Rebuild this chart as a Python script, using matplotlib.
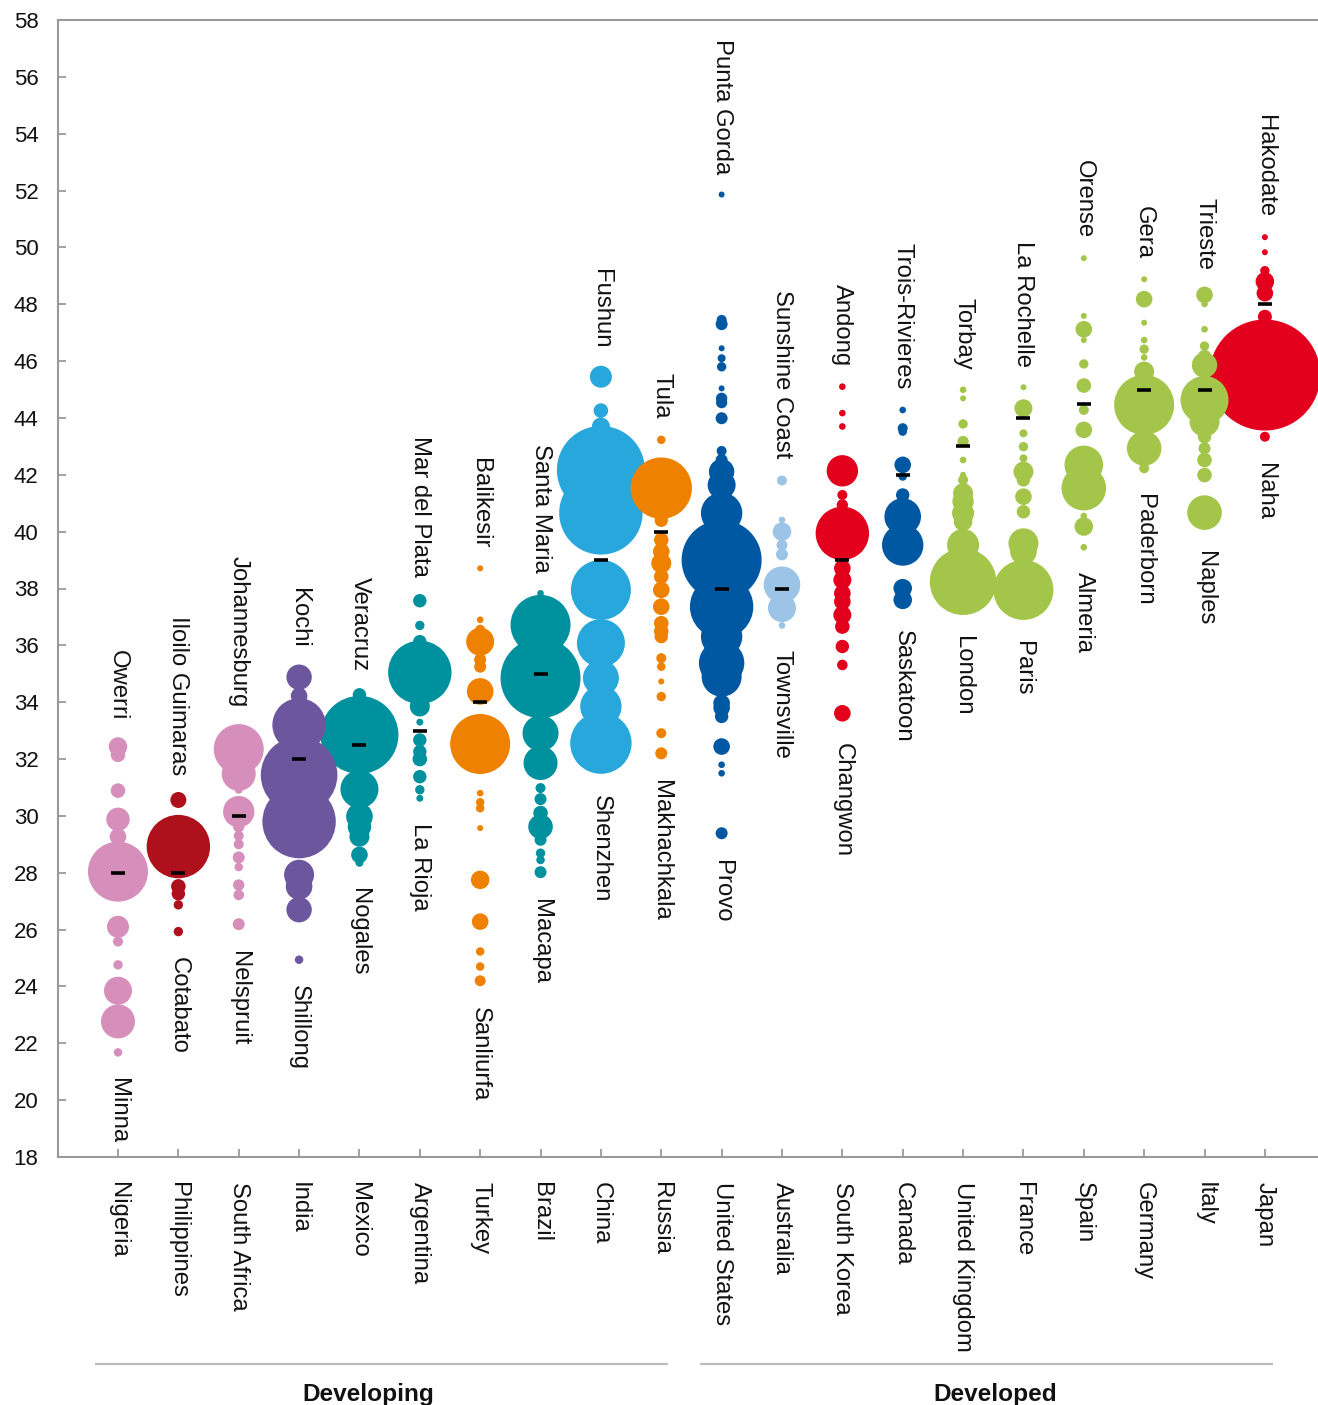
import matplotlib
matplotlib.use("Agg")
import matplotlib.pyplot as plt
import matplotlib.transforms as mtransforms
import numpy as np

plt.rcParams['font.family'] = ['Liberation Sans', 'DejaVu Sans']

countries = ["Nigeria", "Philippines", "South Africa", "India", "Mexico", "Argentina",
             "Turkey", "Brazil", "China", "Russia", "United States", "Australia",
             "South Korea", "Canada", "United Kingdom", "France", "Spain", "Germany",
             "Italy", "Japan"]
top_city = ["Owerri", "Iloilo Guimaras", "Johannesburg", "Kochi", "Veracruz", "Mar del Plata",
            "Balikesir", "Santa Maria", "Fushun", "Tula", "Punta Gorda", "Sunshine Coast",
            "Andong", "Trois-Rivieres", "Torbay", "La Rochelle", "Orense", "Gera",
            "Trieste", "Hakodate"]
bottom_city = ["Minna", "Cotabato", "Nelspruit", "Shillong", "Nogales", "La Rioja",
               "Sanliurfa", "Macapa", "Shenzhen", "Makhachkala", "Provo", "Townsville",
               "Changwon", "Saskatoon", "London", "Paris", "Almeria", "Paderborn",
               "Naples", "Naha"]
medians = [28, 28, 30, 32, 32.5, 33, 34, 35, 39, 40, 38, 38, 39, 42, 43, 44, 44.5, 45, 45, 48]
groups = ["Developing", "Developed"]
country_colors = ["#D58FBA", "#AF111C", "#D58FBA", "#6C579F", "#00919E", "#00919E",
                  "#EE8200", "#00919E", "#28A7DC", "#EE8200", "#0058A2", "#9CC4E6",
                  "#E2001C", "#0058A2", "#A3C64A", "#A3C64A", "#A3C64A", "#A3C64A",
                  "#A3C64A", "#E2001C"]

# city values (y) and relative population (bubble area)
nigeria_vals = [32.44, 32.15, 30.89, 29.88, 29.27, 28.04, 26.1, 25.58, 24.76, 23.85, 22.77, 21.68]
nigeria_pops = [86, 53, 53, 137, 69, 900, 121, 25, 22, 196, 289, 18]
philippines_vals = [30.56, 28.92, 27.52, 27.26, 26.87, 25.93]
philippines_pops = [64, 1005, 53, 45, 22, 22]
south_africa_vals = [32.35, 31.48, 30.92, 30.15, 29.62, 29.3, 29.0, 28.54, 28.2, 27.57, 27.22, 26.19]
south_africa_pops = [625, 289, 16, 246, 32, 25, 25, 36, 18, 32, 28, 36]
india_vals = [34.88, 34.22, 33.2, 31.44, 29.8, 27.93, 27.52, 26.7, 24.94]
india_pops = [161, 69, 713, 1467, 1347, 225, 177, 161, 18]
mexico_vals = [34.26, 32.85, 30.94, 29.98, 29.62, 29.27, 28.63, 28.35]
mexico_pops = [45, 1521, 361, 177, 137, 100, 69, 16]
argentina_vals = [37.57, 36.7, 36.13, 35.05, 33.85, 33.3, 32.67, 32.26, 32.0, 31.38, 30.92, 30.62]
argentina_pops = [45, 22, 45, 1005, 100, 12, 45, 45, 53, 45, 22, 12]
turkey_vals = [38.71, 36.9, 36.55, 36.13, 35.5, 35.25, 34.38, 32.53, 30.8, 30.48, 30.27,
               29.57, 27.75, 26.28, 25.23, 24.7, 24.2]
turkey_pops = [9, 11, 25, 196, 36, 36, 177, 900, 11, 18, 18, 9, 86, 69, 18, 18, 30]
brazil_vals = [37.83, 36.72, 34.85, 32.91, 31.86, 30.98, 30.59, 30.1, 29.62, 29.16, 28.69, 28.45, 28.02]
brazil_pops = [11, 900, 1600, 324, 289, 25, 36, 53, 151, 36, 22, 18, 36]
china_vals = [45.45, 44.26, 43.7, 42.17, 40.66, 37.95, 36.08, 34.85, 33.85, 32.56]
china_pops = [121, 53, 81, 1936, 1739, 900, 576, 324, 428, 942]
russia_vals = [43.23, 41.53, 41.0, 40.4, 39.71, 39.3, 38.89, 38.42, 37.95, 37.36, 36.78,
               36.5, 36.31, 35.55, 35.25, 34.73, 34.2, 32.91, 32.2]
russia_pops = [18, 942, 49, 45, 53, 69, 100, 53, 69, 69, 53, 53, 45, 25, 18, 9, 22, 25, 36]
us_vals = [51.86, 47.45, 47.3, 46.45, 46.1, 45.8, 45.04, 44.69, 44.54, 43.99, 42.84, 42.52,
           42.11, 41.64, 40.65, 39.0, 37.36, 36.31, 35.38, 34.9, 33.97, 33.8, 33.5, 32.44,
           31.8, 31.5, 29.39]
us_pops = [9, 25, 36, 9, 16, 22, 9, 32, 32, 36, 25, 36, 161, 196, 428, 1600, 1005, 428,
           515, 400, 69, 69, 45, 69, 11, 11, 36]
australia_vals = [41.8, 40.41, 40.0, 39.53, 39.2, 38.13, 37.31, 36.7]
australia_pops = [25, 11, 86, 30, 36, 335, 196, 11]
south_korea_vals = [45.1, 44.17, 43.7, 42.14, 41.29, 40.94, 39.94, 38.71, 38.3, 37.83, 37.54,
                    37.07, 36.66, 35.96, 35.31, 33.61]
south_korea_pops = [11, 11, 11, 246, 25, 32, 713, 69, 81, 69, 69, 81, 53, 45, 28, 69]
canada_vals = [44.28, 43.64, 43.52, 42.35, 41.94, 41.29, 40.53, 39.53, 38.01, 37.6]
canada_pops = [11, 25, 18, 69, 18, 45, 335, 428, 86, 86]
uk_vals = [44.99, 44.69, 43.79, 43.17, 42.52, 42.0, 41.82, 41.35, 41.06, 40.65, 40.35, 39.53, 38.83, 38.24]
uk_pops = [11, 9, 22, 32, 11, 9, 25, 100, 114, 121, 86, 256, 177, 1109]
france_vals = [45.08, 44.34, 43.46, 42.99, 42.58, 42.11, 41.82, 41.23, 40.7, 39.59, 39.3, 37.95]
france_pops = [9, 81, 16, 22, 16, 100, 45, 69, 45, 225, 177, 900]
spain_vals = [49.62, 47.59, 47.12, 46.74, 45.9, 45.14, 44.28, 43.58, 42.35, 41.53, 40.55, 40.18, 39.45]
spain_pops = [9, 9, 69, 9, 22, 53, 25, 69, 372, 497, 11, 86, 11]
germany_vals = [48.88, 48.18, 47.35, 46.74, 46.42, 46.13, 45.63, 44.46, 42.93, 42.23]
germany_pops = [9, 69, 9, 11, 22, 11, 100, 900, 299, 25]
italy_vals = [48.33, 48.01, 47.12, 46.53, 46.16, 45.86, 44.63, 43.87, 43.34, 42.93, 42.52, 41.99, 40.67]
italy_pops = [69, 11, 11, 22, 45, 161, 576, 225, 45, 36, 53, 53, 299]
japan_vals = [50.36, 49.83, 49.18, 48.8, 48.39, 47.56, 45.51, 43.34]
japan_pops = [9, 9, 22, 86, 69, 49, 3080, 25]

all_vals = [nigeria_vals, philippines_vals, south_africa_vals, india_vals, mexico_vals,
            argentina_vals, turkey_vals, brazil_vals, china_vals, russia_vals, us_vals,
            australia_vals, south_korea_vals, canada_vals, uk_vals, france_vals, spain_vals,
            germany_vals, italy_vals, japan_vals]
all_pops = [nigeria_pops, philippines_pops, south_africa_pops, india_pops, mexico_pops,
            argentina_pops, turkey_pops, brazil_pops, china_pops, russia_pops, us_pops,
            australia_pops, south_korea_pops, canada_pops, uk_pops, france_pops, spain_pops,
            germany_pops, italy_pops, japan_pops]

DPI = 100
PX2PT = 72.0 / DPI
fig = plt.figure(figsize=(13.18, 14.05), dpi=DPI)
ax = fig.add_axes([58 / 1318, 248 / 1405, 1 - 58 / 1318, (1157 - 20) / 1405])

xs, ys, ss, cs = [], [], [], []
for i, (vals, pops) in enumerate(zip(all_vals, all_pops)):
    for v, p in zip(vals, pops):
        xs.append(i)
        ys.append(v)
        ss.append((2 * np.sqrt(p) * PX2PT) ** 2)
        cs.append(country_colors[i])
order = np.argsort(ss)[::-1]
ax.scatter(np.array(xs)[order], np.array(ys)[order], s=np.array(ss)[order],
           c=[cs[k] for k in order], linewidths=0, zorder=2)

ax.scatter(range(len(countries)), medians, marker='_', s=(14 * PX2PT) ** 2,
           linewidths=3.6 * PX2PT, color='black', zorder=4)

fs = 17.2
for i, (vals, pops) in enumerate(zip(all_vals, all_pops)):
    imax = int(np.argmax(vals))
    imin = int(np.argmin(vals))
    rtop = np.sqrt(pops[imax])
    rbot = np.sqrt(pops[imin])
    ax.annotate(top_city[i], xy=(i, vals[imax]), xytext=(0, (rtop + 17) * PX2PT),
                textcoords='offset points', rotation=-90, ha='center', va='bottom',
                fontsize=fs, color='#111111', zorder=5, annotation_clip=False)
    ax.annotate(bottom_city[i], xy=(i, vals[imin]), xytext=(0, -(rbot + 21) * PX2PT),
                textcoords='offset points', rotation=-90, ha='center', va='top',
                fontsize=fs, color='#111111', zorder=5, annotation_clip=False)

ax.set_ylim(18, 58)
ax.set_xlim(-0.994, 19.88)
ax.set_yticks(np.arange(18, 59, 2))
ax.set_xticks(range(len(countries)))
ax.set_xticklabels(countries, rotation=-90, ha='center', va='top', fontsize=fs)
ax.tick_params(axis='y', direction='in', length=8 * PX2PT, width=1.3, color='#999999',
               labelsize=16, pad=14, labelcolor='#111111')
ax.tick_params(axis='x', direction='in', length=8 * PX2PT, width=1.3, color='#999999',
               pad=18, labelcolor='#111111')
for side in ['left', 'top', 'bottom']:
    ax.spines[side].set_color('#999999')
    ax.spines[side].set_linewidth(1.5)
ax.spines['right'].set_visible(False)

trans = mtransforms.blended_transform_factory(ax.transData, ax.transAxes)
H = 1157 - 20
yline = (1157 - 1364) / H
ytext = (1157 - 1401) / H
group_spans = [(-0.38, 9.11), (9.64, 19.14)]
group_centers = [4.14, 14.53]
for g, (a, b), c in zip(groups, group_spans, group_centers):
    ax.plot([a, b], [yline, yline], transform=trans, color='#BBBBBB', lw=1.6,
            clip_on=False, solid_capstyle='butt')
    ax.text(c, ytext, g, transform=trans, ha='center', va='baseline',
            fontsize=17.6, fontweight='bold', color='#111111')

fig.savefig("out.png", dpi=DPI)
